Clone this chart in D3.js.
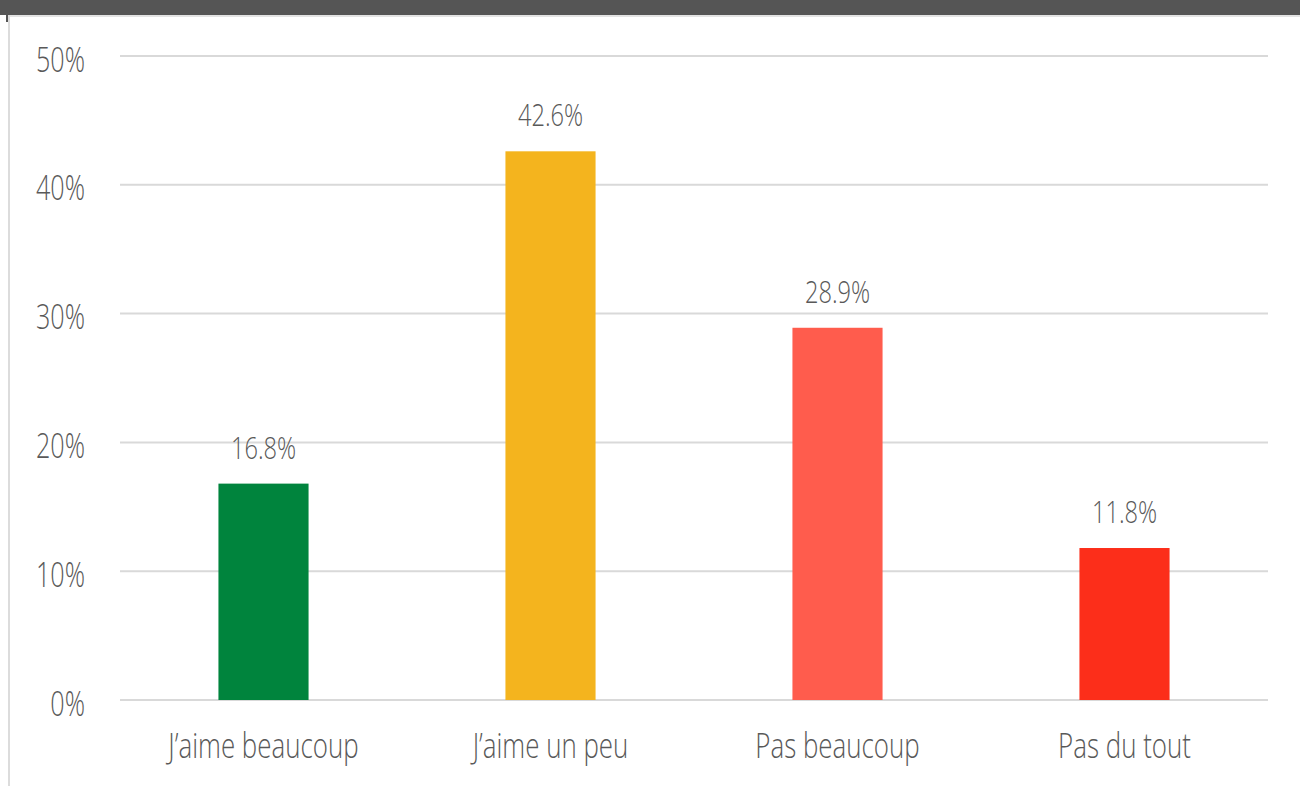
<!DOCTYPE html>
<html>
<head>
<meta charset="utf-8">
<script src="https://cdn.jsdelivr.net/npm/d3@7"></script>
<style>
  body { margin: 0; background: #fff; }
  svg text { font-family: "Open Sans", sans-serif; font-weight: 300; fill: #595959; }
</style>
</head>
<body>
<div id="chart"></div>
<script>
var categories = ["J\u2019aime beaucoup", "J\u2019aime un peu", "Pas beaucoup", "Pas du tout"];
var values = [16.8, 42.6, 28.9, 11.8];
var colors = ["#00843d", "#f4b41e", "#ff5c4d", "#fc2e1a"];
var yTicks = [0, 10, 20, 30, 40, 50];

const W = 1300, H = 786,
	LEFT = 120, RIGHT = 1268,
	TOP = 56, BOTTOM = 700,
	SQUEEZE = 0.74; // narrow the font, the original one is condensed

var svg = d3.select("#chart").append("svg")
	.attr("width", W).attr("height", H);

// frame bits
svg.append("rect").attr("x", 0).attr("y", 0).attr("width", W).attr("height", 15).attr("fill", "#555");
svg.append("rect").attr("x", 6).attr("y", 15).attr("width", 2).attr("height", 7).attr("fill", "#555");
svg.append("rect").attr("x", 8).attr("y", 15).attr("width", W - 8).attr("height", 2).attr("fill", "#e3e3e3");
svg.append("rect").attr("x", 8).attr("y", 15).attr("width", 2).attr("height", H).attr("fill", "#dcdcdc");

var x = d3.scaleBand().domain(categories).range([LEFT, RIGHT]);
var y = d3.scaleLinear().domain([0, 50]).range([BOTTOM, TOP]);
var barW = x.bandwidth() * 0.314;

// grid
svg.append("g").selectAll("line").data(yTicks).enter().append("line")
	.attr("x1", LEFT).attr("x2", RIGHT)
	.attr("y1", d => y(d)).attr("y2", d => y(d))
	.attr("stroke", "#d9d9d9").attr("stroke-width", 2);

var yAxis = d3.axisLeft(y).tickValues(yTicks).tickFormat(d => d + "%").tickSize(0).tickPadding(0);
var ga = svg.append("g").attr("transform", "translate(85,0)").call(yAxis);
ga.select(".domain").remove();
ga.selectAll("text")
	.style("font-size", "34px")
	.attr("x", 0).attr("dy", 0).attr("y", 15)
	.attr("transform", "scale(" + SQUEEZE + ",1)");

// bars
svg.append("g").selectAll("rect").data(values).enter().append("rect")
	.attr("x", (d, i) => x(categories[i]) + x.bandwidth() / 2 - barW / 2)
	.attr("width", barW)
	.attr("y", d => y(d))
	.attr("height", d => y(0) - y(d))
	.attr("fill", (d, i) => colors[i]);

// value labels
svg.append("g").selectAll("g").data(values).enter().append("g")
	.attr("transform", (d, i) => "translate(" + (x(categories[i]) + x.bandwidth() / 2) + "," + (y(d) - 25) + ")")
	.append("text")
	.attr("text-anchor", "middle")
	.attr("transform", "scale(" + SQUEEZE + ",1)")
	.style("font-size", "32px")
	.text(d => d.toFixed(1) + "%");

var xAxis = d3.axisBottom(x).tickSize(0).tickPadding(0);
var gx = svg.append("g").attr("transform", "translate(0," + BOTTOM + ")").call(xAxis);
gx.select(".domain").remove();
gx.selectAll("text")
	.style("font-size", "35px")
	.attr("dy", 0).attr("y", 58)
	.attr("transform", "scale(" + SQUEEZE + ",1)");
</script>
</body>
</html>
